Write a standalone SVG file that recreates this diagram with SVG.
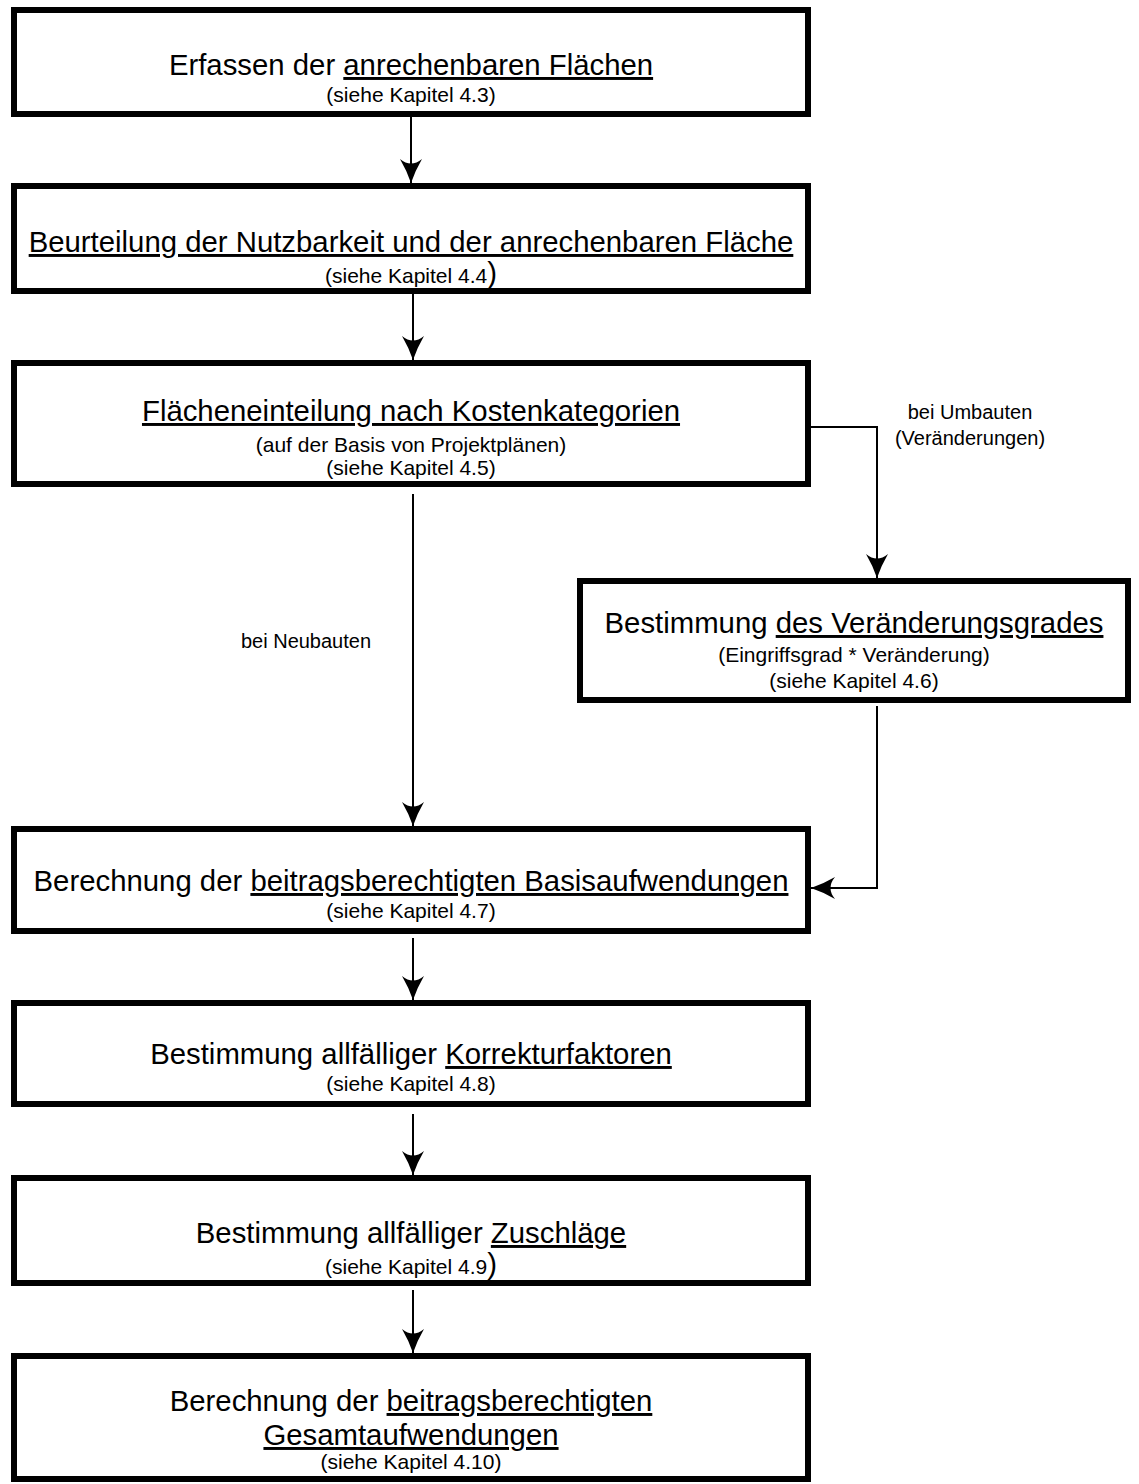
<svg xmlns="http://www.w3.org/2000/svg" width="1139" height="1484" viewBox="0 0 1139 1484">
<style>
.box{fill:#fff;stroke:#000;stroke-width:6}
.t{font-family:"Liberation Sans",Arial,sans-serif;fill:#000;text-anchor:middle}
.m{font-size:29.33px}
.s{font-size:21px}
.l{font-size:20px}
.u{text-decoration:underline}
.c{fill:none;stroke:#000;stroke-width:2}
</style>
<defs>
<marker id="ah" markerUnits="userSpaceOnUse" markerWidth="24" markerHeight="22" refX="24" refY="11" orient="auto">
<path d="M24,11 Q12,7 0,0 Q9,11 0,22 Q12,15 24,11 Z" fill="#000"/>
</marker>
</defs>
<rect width="1139" height="1484" fill="#fff"/>
<g id="connectors">
<line class="c" x1="411" y1="117" x2="411" y2="183" marker-end="url(#ah)"/>
<line class="c" x1="413" y1="294" x2="413" y2="360" marker-end="url(#ah)"/>
<line class="c" x1="413" y1="494" x2="413" y2="826" marker-end="url(#ah)"/>
<polyline class="c" points="808,427 877,427 877,578" marker-end="url(#ah)"/>
<polyline class="c" points="877,706 877,888 811,888" marker-end="url(#ah)"/>
<line class="c" x1="413" y1="938" x2="413" y2="1000" marker-end="url(#ah)"/>
<line class="c" x1="413" y1="1114" x2="413" y2="1175" marker-end="url(#ah)"/>
<line class="c" x1="413" y1="1290" x2="413" y2="1353" marker-end="url(#ah)"/>
<text class="t l" x="970" y="419">bei Umbauten</text>
<text class="t l" x="970" y="445">(Veränderungen)</text>
<text class="t l" x="306" y="648">bei Neubauten</text>
</g>
<g id="n1">
<rect class="box" x="14" y="10" width="794" height="104"/>
<text class="t m" x="411" y="75">Erfassen der <tspan class="u">anrechenbaren Flächen</tspan></text>
<text class="t s" x="411" y="102">(siehe Kapitel 4.3)</text>
</g>
<g id="n2">
<rect class="box" x="14" y="186" width="794" height="105"/>
<text class="t m u" x="411" y="252">Beurteilung der Nutzbarkeit und der anrechenbaren Fläche</text>
<text class="t s" x="411" y="283">(siehe Kapitel 4.4<tspan class="m">)</tspan></text>
</g>
<g id="n3">
<rect class="box" x="14" y="363" width="794" height="121"/>
<text class="t m u" x="411" y="421">Flächeneinteilung nach Kostenkategorien</text>
<text class="t s" x="411" y="452">(auf der Basis von Projektplänen)</text>
<text class="t s" x="411" y="475">(siehe Kapitel 4.5)</text>
</g>
<g id="n4">
<rect class="box" x="580" y="581" width="548" height="119"/>
<text class="t m" x="854" y="633">Bestimmung <tspan class="u">des Veränderungsgrades</tspan></text>
<text class="t s" x="854" y="662">(Eingriffsgrad * Veränderung)</text>
<text class="t s" x="854" y="688">(siehe Kapitel 4.6)</text>
</g>
<g id="n5">
<rect class="box" x="14" y="829" width="794" height="102"/>
<text class="t m" x="411" y="891">Berechnung der <tspan class="u">beitragsberechtigten Basisaufwendungen</tspan></text>
<text class="t s" x="411" y="918">(siehe Kapitel 4.7)</text>
</g>
<g id="n6">
<rect class="box" x="14" y="1003" width="794" height="101"/>
<text class="t m" x="411" y="1064">Bestimmung allfälliger <tspan class="u">Korrekturfaktoren</tspan></text>
<text class="t s" x="411" y="1091">(siehe Kapitel 4.8)</text>
</g>
<g id="n7">
<rect class="box" x="14" y="1178" width="794" height="105"/>
<text class="t m" x="411" y="1243">Bestimmung allfälliger <tspan class="u">Zuschläge</tspan></text>
<text class="t s" x="411" y="1274">(siehe Kapitel 4.9<tspan class="m">)</tspan></text>
</g>
<g id="n8">
<rect class="box" x="14" y="1356" width="794" height="123"/>
<text class="t m" x="411" y="1411">Berechnung der <tspan class="u">beitragsberechtigten</tspan></text>
<text class="t m u" x="411" y="1445">Gesamtaufwendungen</text>
<text class="t s" x="411" y="1469">(siehe Kapitel 4.10)</text>
</g>
</svg>
